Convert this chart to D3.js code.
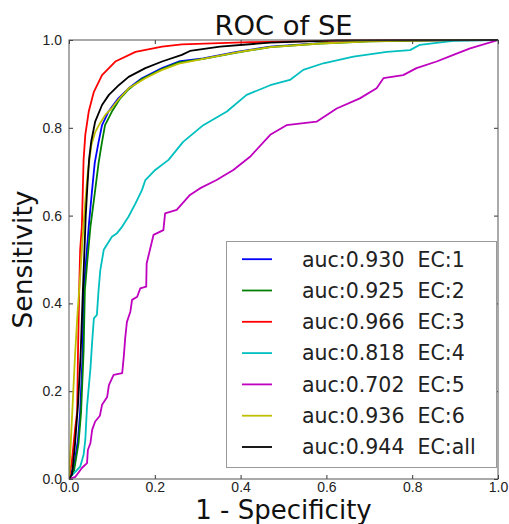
<!DOCTYPE html>
<meta charset="utf-8">
<style>
  html, body {
    margin: 0;
    padding: 0;
    background: #fff;
  }
  svg {
    display: block;
    font-family: "DejaVu Sans", sans-serif;
  }
  .axis text {
    font-size: 14px;
    fill: #222;
  }
  .axis path { display: none; }
  .axis line { stroke: #333; }
  .roc {
    fill: none;
    stroke-width: 1.8;
    stroke-linejoin: round;
  }
</style>
<div id="chart"></div>

<script src="https://cdnjs.cloudflare.com/ajax/libs/d3/7.8.5/d3.min.js"></script>
<script>
// curves, [1 - specificity, sensitivity]
var ec1 = [[0,0],[0.012,0.03],[0.021,0.09],[0.026,0.153],[0.032,0.29],[0.034,0.43],[0.040,0.50],[0.046,0.575],
  [0.053,0.65],[0.060,0.72],[0.069,0.768],[0.077,0.806],[0.092,0.837],[0.115,0.867],[0.139,0.890],[0.170,0.913],
  [0.217,0.936],[0.256,0.951],[0.313,0.958],[0.391,0.973],[0.469,0.985],[0.585,0.993],[0.702,0.998],[0.895,1],[1,1]];
var ec2 = [[0,0],[0.012,0.02],[0.022,0.08],[0.028,0.15],[0.034,0.29],[0.037,0.43],[0.043,0.50],[0.050,0.575],
  [0.060,0.65],[0.069,0.72],[0.077,0.768],[0.084,0.806],[0.100,0.837],[0.118,0.865],[0.139,0.888],[0.170,0.911],
  [0.217,0.934],[0.256,0.949],[0.313,0.957],[0.391,0.971],[0.469,0.984],[0.585,0.992],[0.702,0.997],[0.895,1],[1,1]];
var ec3 = [[0,0],[0.007,0.043],[0.014,0.112],[0.019,0.153],[0.021,0.29],[0.024,0.442],[0.026,0.522],[0.030,0.575],
  [0.034,0.727],[0.038,0.784],[0.046,0.837],[0.058,0.882],[0.077,0.920],[0.108,0.951],[0.155,0.973],[0.217,0.985],
  [0.263,0.990],[0.422,0.995],[0.655,0.999],[1,1]];
var ec4 = [[0,0],[0.003,0.005],[0.015,0.017],[0.026,0.028],[0.034,0.055],[0.038,0.089],[0.042,0.165],[0.050,0.252],
  [0.054,0.313],[0.058,0.366],[0.065,0.374],[0.069,0.431],[0.073,0.476],[0.081,0.522],[0.100,0.552],[0.112,0.560],
  [0.124,0.575],[0.139,0.598],[0.155,0.628],[0.170,0.658],[0.178,0.681],[0.201,0.704],[0.232,0.727],[0.266,0.768],
  [0.313,0.806],[0.368,0.837],[0.414,0.875],[0.469,0.897],[0.515,0.909],[0.546,0.932],[0.593,0.947],[0.663,0.962],
  [0.741,0.973],[0.795,0.977],[0.818,0.989],[0.896,0.998],[1,1]];
var ec5 = [[0,0],[0.015,0.005],[0.030,0.025],[0.042,0.036],[0.044,0.066],[0.050,0.082],[0.054,0.112],[0.061,0.131],
  [0.072,0.144],[0.077,0.169],[0.089,0.187],[0.093,0.214],[0.104,0.237],[0.124,0.241],[0.128,0.282],[0.131,0.321],
  [0.135,0.358],[0.143,0.381],[0.147,0.408],[0.159,0.415],[0.166,0.434],[0.180,0.438],[0.181,0.491],[0.197,0.556],
  [0.220,0.567],[0.224,0.605],[0.251,0.613],[0.282,0.647],[0.305,0.662],[0.344,0.681],[0.383,0.704],[0.422,0.734],
  [0.469,0.784],[0.507,0.806],[0.577,0.814],[0.624,0.844],[0.678,0.867],[0.717,0.890],[0.733,0.913],[0.779,0.920],
  [0.810,0.936],[0.857,0.951],[0.896,0.966],[0.935,0.981],[1,1]];
var ec6 = [[0,0],[0.004,0.08],[0.009,0.18],[0.014,0.28],[0.020,0.38],[0.026,0.46],[0.031,0.54],[0.037,0.62],
  [0.044,0.70],[0.052,0.76],[0.061,0.79],[0.072,0.81],[0.085,0.83],[0.100,0.845],[0.116,0.865],[0.139,0.890],
  [0.178,0.913],[0.217,0.932],[0.256,0.946],[0.313,0.957],[0.391,0.972],[0.469,0.984],[0.585,0.992],[0.702,0.997],
  [0.895,1],[1,1]];
var ecAll = [[0,0],[0.007,0.01],[0.014,0.08],[0.021,0.17],[0.027,0.28],[0.032,0.42],[0.036,0.52],[0.039,0.60],
  [0.043,0.67],[0.047,0.73],[0.052,0.77],[0.061,0.814],[0.077,0.852],[0.093,0.875],[0.116,0.897],[0.139,0.916],
  [0.178,0.936],[0.217,0.951],[0.263,0.966],[0.282,0.975],[0.352,0.985],[0.469,0.994],[0.624,0.999],[1,1]];

var labels = ["EC:1", "EC:2", "EC:3", "EC:4", "EC:5", "EC:6", "EC:all"];
var aucs = ["0.930", "0.925", "0.966", "0.818", "0.702", "0.936", "0.944"];
var colors = ["#0000ff", "#008000", "#ff0000", "#00bfbf", "#bf00bf", "#bfbf00", "#000000"];
var curves = [ec1, ec2, ec3, ec4, ec5, ec6, ecAll];
var ticks = [0, 0.2, 0.4, 0.6, 0.8, 1.0];

var W = 509, H = 524;
var pL = 69, pR = 498, pT = 40, pB = 479;

var x = d3.scaleLinear().domain([0, 1]).range([pL, pR]);
var y = d3.scaleLinear().domain([0, 1]).range([pB, pT]);

var svg = d3.select("#chart").append("svg")
  .attr("width", W)
  .attr("height", H);

// axes, ticks pointing inward on every side
svg.append("g").attr("class", "axis")
  .attr("transform", "translate(0," + pB + ")")
  .call(d3.axisBottom(x).tickValues(ticks).tickFormat(d3.format(".1f")).tickSizeInner(-4).tickSizeOuter(0).tickPadding(3));
svg.append("g").attr("class", "axis")
  .attr("transform", "translate(0," + pT + ")")
  .call(d3.axisTop(x).tickValues(ticks).tickFormat("").tickSizeInner(-4).tickSizeOuter(0));
svg.append("g").attr("class", "axis")
  .attr("transform", "translate(" + pL + ",0)")
  .call(d3.axisLeft(y).tickValues(ticks).tickFormat(d3.format(".1f")).tickSizeInner(-4).tickSizeOuter(0).tickPadding(7));
svg.append("g").attr("class", "axis")
  .attr("transform", "translate(" + pR + ",0)")
  .call(d3.axisRight(y).tickValues(ticks).tickFormat("").tickSizeInner(-4).tickSizeOuter(0));

var line = d3.line()
  .x(function(d) { return x(d[0]); })
  .y(function(d) { return y(d[1]); });

svg.append("defs").append("clipPath").attr("id", "clip")
  .append("rect")
  .attr("x", pL).attr("y", pT - 1)
  .attr("width", pR - pL).attr("height", pB - pT + 1);

svg.append("g")
  .attr("clip-path", "url(#clip)")
  .selectAll("path")
  .data(curves)
  .enter()
    .append("path")
    .attr("class", "roc")
    .attr("d", line)
    .attr("stroke", function(_, i) { return colors[i]; });

// frame
svg.append("rect")
  .attr("x", pL).attr("y", pT)
  .attr("width", pR - pL).attr("height", pB - pT)
  .attr("fill", "none")
  .attr("stroke", "#555")
  .attr("stroke-width", 1);

// legend
var lg = svg.append("g");
lg.append("rect")
  .attr("x", 226.5).attr("y", 241.5)
  .attr("width", 270).attr("height", 226)
  .attr("fill", "#fff")
  .attr("stroke", "#999")
  .attr("stroke-width", 1);

var rows = lg.selectAll("g.row")
  .data(labels)
  .enter()
    .append("g")
    .attr("class", "row")
    .attr("transform", function(_, i) { return "translate(0," + (266.5 + i * 31.3) + ")"; });

rows.append("line")
  .attr("x1", 242).attr("x2", 272)
  .attr("y1", -7.3).attr("y2", -7.3)
  .attr("stroke", function(_, i) { return colors[i]; })
  .attr("stroke-width", 1.8);

rows.append("text")
  .attr("x", 302)
  .attr("font-size", "20.5px")
  .attr("fill", "#222")
  .style("white-space", "pre")
  .text(function(d, i) { return "auc:" + aucs[i] + "  " + d; });

// titles
svg.append("text")
  .attr("x", (pL + pR) / 2).attr("y", 35)
  .attr("text-anchor", "middle")
  .attr("font-size", "27.4px")
  .attr("fill", "#111")
  .text("ROC of SE");

svg.append("text")
  .attr("x", (pL + pR) / 2).attr("y", 518.5)
  .attr("text-anchor", "middle")
  .attr("font-size", "26px")
  .attr("fill", "#111")
  .text("1 - Specificity");

svg.append("text")
  .attr("transform", "translate(32," + ((pT + pB) / 2) + ") rotate(-90)")
  .attr("text-anchor", "middle")
  .attr("font-size", "26.5px")
  .attr("fill", "#111")
  .text("Sensitivity");
</script>
